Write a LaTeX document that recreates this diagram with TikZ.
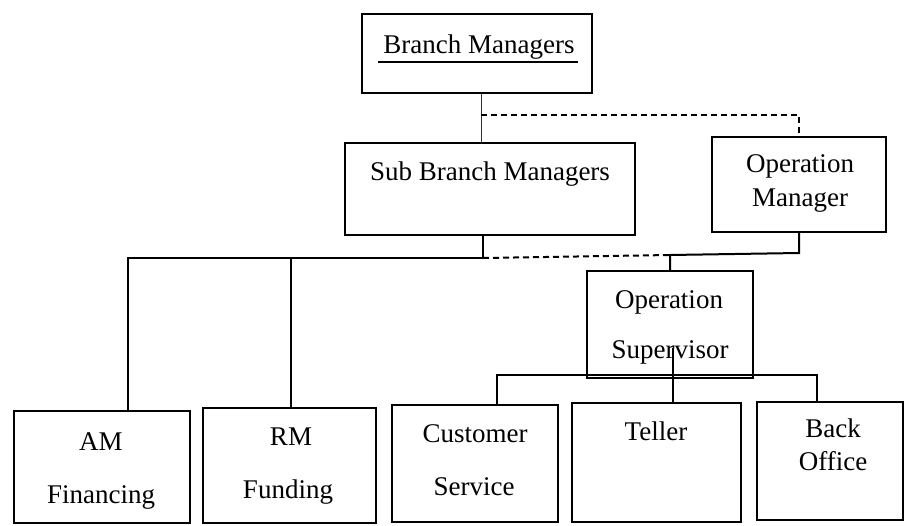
\documentclass[tikz,border=0pt]{standalone}
\usepackage{fontspec}
\setmainfont{Liberation Serif}
\begin{document}
\begin{tikzpicture}[x=1pt,y=-1pt,
  box/.style={draw=black, line width=2pt, rectangle, inner sep=0pt},
  txt/.style={anchor=base, inner sep=0pt, font=\fontsize{27}{32}\selectfont},
  conn/.style={draw=black, line width=2pt},
  thinconn/.style={draw=black!80, line width=0.8pt},
  dashconn/.style={draw=black, line width=2pt, dash pattern=on 6pt off 4pt}]
\useasboundingbox[fill=white] (0,0) rectangle (904,525);

% boxes
\node[box, minimum width=230pt, minimum height=79pt] (bm) at (477,53.5) {};
\node[box, minimum width=290pt, minimum height=92pt] (sub) at (490,189) {};
\node[box, minimum width=174pt, minimum height=95pt] (om) at (799,184.5) {};
\node[box, minimum width=166pt, minimum height=107pt] (ops) at (670,324.5) {};
\node[box, minimum width=176pt, minimum height=112pt] (am) at (102,467) {};
\node[box, minimum width=173pt, minimum height=115pt] (rm) at (289.5,465.5) {};
\node[box, minimum width=166pt, minimum height=117pt] (cs) at (475,463.5) {};
\node[box, minimum width=169pt, minimum height=119pt] (tel) at (656.5,462.5) {};
\node[box, minimum width=146pt, minimum height=118pt] (bo) at (830,461) {};

% texts
\node[txt] (bmt) at (479,53) {Branch Managers};
\draw[line width=1.4pt] (378,62) -- (578,62);
\node[txt] (subt) at (490,180) {Sub Branch Managers};
\node[txt] (omt1) at (800,172) {Operation};
\node[txt] (omt2) at (800,206) {Manager};
\node[txt] (opst1) at (669,308) {Operation};
\node[txt] (opst2) at (670,358) {Supervisor};
\node[txt] (amt1) at (101,450) {AM};
\node[txt] (amt2) at (101,503) {Financing};
\node[txt] (rmt1) at (291,445) {RM};
\node[txt] (rmt2) at (288,498) {Funding};
\node[txt] (cst1) at (475,442) {Customer};
\node[txt] (cst2) at (474,495) {Service};
\node[txt] (telt) at (656,440) {Teller};
\node[txt] (bot1) at (833,437) {Back};
\node[txt] (bot2) at (833,470) {Office};

% junction coordinates
\coordinate (dj) at (481,115);
\coordinate (sj) at (483,258);
\coordinate (b1l) at (128,258);
\coordinate (b1r) at (291,258);
\coordinate (oj) at (670,255);
\coordinate (omj) at (799,253);
\coordinate (b2l) at (497,375);
\coordinate (b2m) at (673,348);
\coordinate (b2r) at (817,375);

% connectors
\draw[thinconn] (bm.south -| dj) -- (sub.north -| dj);
\draw[dashconn] (dj) -| (om.north);
\draw[conn] (sub.south -| sj) -- (sj) -- (b1l) -- (am.north -| b1l);
\draw[conn] (b1r) -- (rm.north -| b1r);
\draw[dashconn] (sj) -- (oj);
\draw[conn] (om.south) -- (omj) -- (oj) -- (ops.north -| oj);
\draw[conn] (cs.north -| b2l) -- (b2l) -- (b2r) -- (bo.north -| b2r);
\draw[conn] (b2m) -- (tel.north -| b2m);
\end{tikzpicture}
\end{document}
